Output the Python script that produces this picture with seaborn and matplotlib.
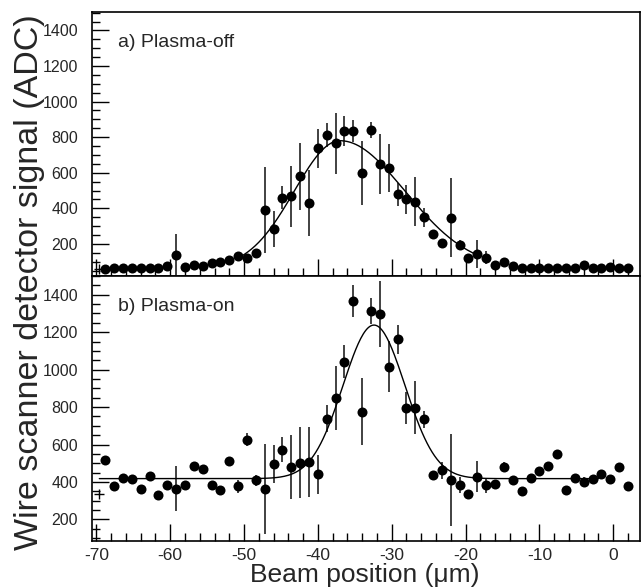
import numpy as np
import pandas as pd
import matplotlib
matplotlib.use("Agg")
import matplotlib.pyplot as plt
from matplotlib.ticker import MultipleLocator
import seaborn as sns

# beam positions (um), same for both scans
positions = [-68.8, -67.6, -66.4, -65.2, -64.0, -62.8, -61.6, -60.4, -59.2, -58.0,
             -56.8, -55.6, -54.4, -53.2, -52.0, -50.8, -49.6, -48.4, -47.2, -46.0,
             -44.8, -43.6, -42.4, -41.2, -40.0, -38.8, -37.6, -36.4, -35.2, -34.0,
             -32.8, -31.6, -30.4, -29.2, -28.0, -26.8, -25.6, -24.4, -23.2, -22.0,
             -20.8, -19.6, -18.4, -17.2, -16.0, -14.8, -13.6, -12.4, -11.2, -10.0,
             -8.8, -7.6, -6.4, -5.2, -4.0, -2.8, -1.6, -0.4, 0.8, 2.0]

# a) plasma-off
off_signal = [60, 62, 62, 62, 62, 62, 62, 75, 138, 70,
              82, 76, 91, 100, 108, 132, 119, 146, 390, 283,
              459, 467, 579, 431, 737, 812, 765, 836, 834, 598,
              840, 650, 626, 478, 451, 438, 349, 256, 204, 348,
              194, 119, 142, 123, 80, 99, 76, 66, 64, 63,
              65, 66, 65, 64, 80, 64, 64, 68, 67, 62]
off_err = [8, 8, 8, 8, 8, 8, 8, 12, 115, 10,
           12, 10, 12, 12, 15, 15, 15, 20, 240, 100,
           65, 170, 190, 185, 108, 70, 170, 83, 60, 178,
           45, 170, 133, 65, 82, 137, 52, 20, 20, 220,
           25, 12, 77, 38, 10, 12, 10, 8, 8, 8,
           8, 8, 8, 8, 10, 8, 8, 8, 8, 8]

# b) plasma-on
on_signal = [516, 379, 421, 414, 364, 432, 329, 382, 364, 382,
             486, 471, 386, 359, 512, 377, 625, 409, 364, 495,
             573, 480, 504, 507, 441, 739, 850, 1043, 1368, 775,
             1311, 1298, 1016, 1162, 793, 796, 734, 440, 462, 409,
             384, 336, 428, 382, 389, 480, 413, 350, 422, 457,
             485, 550, 357, 422, 400, 416, 445, 418, 480, 377]
on_err = [20, 15, 15, 15, 15, 15, 15, 15, 120, 15,
          20, 20, 20, 15, 20, 35, 35, 30, 240, 100,
          68, 170, 190, 187, 105, 71, 170, 90, 85, 178,
          69, 177, 137, 76, 85, 141, 45, 20, 45, 245,
          43, 15, 82, 40, 15, 27, 15, 15, 15, 15,
          15, 15, 15, 15, 25, 15, 15, 15, 15, 15]

# fitted gaussian parameters
off_fit = dict(base=60, amp=720, mu=-37.0, sig_left=6.2, sig_right=8.8, x0=-50.4, x1=-18.6)
on_fit = dict(base=418, amp=820, mu=-32.4, sig_left=4.2, sig_right=4.2, x0=-69.6, x1=-2.0)


def gauss(x, p):
    sig = np.where(x < p["mu"], p["sig_left"], p["sig_right"])
    return p["base"] + p["amp"] * np.exp(-0.5 * ((x - p["mu"]) / sig) ** 2)


sns.set_theme(style="ticks")
plt.rcParams['font.family'] = ['Liberation Sans', 'DejaVu Sans']
plt.rcParams['axes.unicode_minus'] = False

fig = plt.figure(figsize=(6.43, 5.87), dpi=100)
ax_top = fig.add_axes([0.143, 0.530, 0.852, 0.450])
ax_bot = fig.add_axes([0.143, 0.0784, 0.852, 0.4514])

panels = [
    (ax_top, off_signal, off_err, off_fit, "a) Plasma-off", (20, 1505), 60),
    (ax_bot, on_signal, on_err, on_fit, "b) Plasma-on", (85, 1500), 335),
]

for ax, sig, err, fit, label, ylim, cross_y in panels:
    df = pd.DataFrame({"pos": positions, "signal": sig, "err": err})
    ax.errorbar(df["pos"], df["signal"], yerr=df["err"], fmt="none",
                ecolor="#333333", elinewidth=1.3, capsize=0, zorder=2)
    xf = np.linspace(fit["x0"], fit["x1"], 400)
    sns.lineplot(x=xf, y=gauss(xf, fit), color="black", lw=1.0, ax=ax, zorder=3)
    sns.scatterplot(data=df, x="pos", y="signal", color="black", s=52,
                    linewidth=0, ax=ax, zorder=4)
    ax.plot([-69.7], [cross_y], marker="+", color="black", ms=7, mew=1)

    ax.set_xlim(-70.6, 3.6)
    ax.set_ylim(*ylim)
    ax.set_xlabel("")
    ax.set_ylabel("")
    ax.xaxis.set_major_locator(MultipleLocator(10))
    ax.xaxis.set_minor_locator(MultipleLocator(2))
    ax.yaxis.set_minor_locator(MultipleLocator(50))
    ax.set_yticks([200, 400, 600, 800, 1000, 1200, 1400])
    ax.tick_params(which="both", direction="in", top=False, right=False, width=1, color="black")
    ax.tick_params(which="major", length=12)
    ax.tick_params(which="minor", length=6)
    ax.tick_params(axis="y", labelsize=11.5, pad=10)
    ax.tick_params(axis="x", labelsize=12.5, pad=5)
    for sp in ax.spines.values():
        sp.set_visible(True)
        sp.set_linewidth(1.2)
        sp.set_color("black")
    ax.text(0.047, 0.885, label, transform=ax.transAxes, fontsize=14,
            ha="left", va="center")

ax_top.tick_params(axis="x", labelbottom=False)

fig.text(0.046, 0.52, "Wire scanner detector signal (ADC)", rotation=90,
         fontsize=24.5, ha="center", va="center")
fig.text(0.568, 0.021, "Beam position (\u03bcm)", fontsize=19,
         ha="center", va="center")

fig.savefig("out.png", dpi=100)
